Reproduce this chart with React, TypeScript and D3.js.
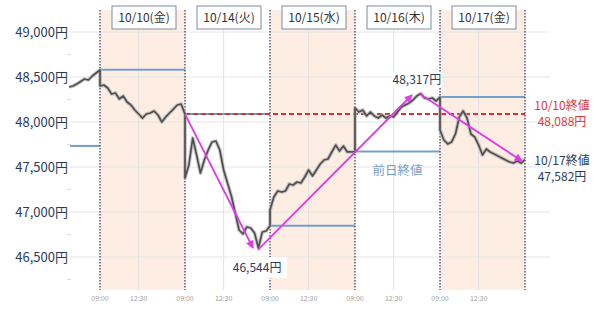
import React from "react";
import * as d3 from "d3";

const W = 600;
const H = 312;
const SESSION = 330; // trading minutes per day (lunch break removed)
const STEP = 15;

const DAY_LABELS = ["10/10(金)", "10/14(火)", "10/15(水)", "10/16(木)", "10/17(金)"];
const SHADED_DAYS = [0, 2, 4];
const Y_TICKS = [46500, 47000, 47500, 48000, 48500, 49000];
const MINOR_TICKS = [46250, 46750, 47250, 47750, 48250, 48750];
const TIME_TICKS = [
  { m: 0, t: "09:00" },
  { m: 150, t: "12:30" },
];

// Prices sampled every 15 trading minutes
const P_1009 = [48389, 48400, 48422, 48450, 48478, 48467, 48511, 48544, 48578]; // from 210 min
const P_1010 = [48400, 48411, 48378, 48311, 48322, 48256, 48289, 48222, 48189, 48133, 48089, 48044, 48089, 48100, 48122, 48078, 48000, 48056, 48100, 48144, 48189, 48200, 48088];
const P_1014 = [47378, 47522, 47822, 47633, 47433, 47578, 47689, 47778, 47789, 47689, 47467, 47322, 47178, 46989, 46800, 46756, 46833, 46822, 46767, 46600, 46778, 46789, 46847];
const P_1015 = [47022, 47167, 47233, 47222, 47233, 47311, 47300, 47333, 47322, 47389, 47467, 47400, 47467, 47533, 47578, 47589, 47667, 47744, 47678, 47733, 47667, 47667, 47672];
const P_1016 = [48156, 48111, 48133, 48067, 48111, 48067, 48044, 48078, 48044, 48067, 48056, 48111, 48167, 48189, 48211, 48244, 48289, 48317, 48267, 48256, 48267, 48233, 48277];
const P_1017 = [47911, 47800, 47756, 47778, 47867, 48056, 48122, 48044, 47867, 47833, 47744, 47633, 47700, 47667, 47644, 47622, 47600, 47578, 47556, 47544, 47567, 47544, 47582];

const SERIES = [
  { day: -1, start: 210, values: P_1009 },
  { day: 0, start: 0, values: P_1010 },
  { day: 1, start: 0, values: P_1014 },
  { day: 2, start: 0, values: P_1015 },
  { day: 3, start: 0, values: P_1016 },
  { day: 4, start: 0, values: P_1017 },
];

// previous-day close for each day (-1..4)
const PREV_CLOSE = [47734, 48580, 48088, 46847, 47672, 48277];
const REF_CLOSE = 48088; // 10/10 close
const LAST_CLOSE = 47582;
const HIGH = 48317;
const LOW = 46544;

const ARROWS = [
  { from: [1, 0, 48088], to: [1, 264, 46600] },
  { from: [1, 283, 46578], to: [3, 221, 48300] },
  { from: [3, 252, 48311], to: [4, 318, 47567] },
];

const PLOT_LEFT = 70;
const PLOT_RIGHT = 550;
const PLOT_TOP = 10;
const PLOT_BOTTOM = 290;

const xs = d3.scaleLinear().domain([0, SESSION]).range([100, 185]);
const pos = (day: number, m: number) => xs(day * SESSION + m);
const ys = d3.scaleLinear().domain([46500, 49000]).range([257, 32]);

const fmt = d3.format(",");
const JP = "'Noto Sans CJK JP', 'Noto Sans', sans-serif";
const MAGENTA = "#e03ae6";
const BLUE = "#72a0c9";
const NAVY = "#2c3b58";

export default function App() {
  const pts: [number, number][] = [];
  SERIES.forEach((s) => {
    s.values.forEach((v, i) => {
      pts.push([pos(s.day, s.start + i * STEP), ys(v)]);
    });
  });
  const line = d3.line().curve(d3.curveLinear)(pts) || "";

  const days = [0, 1, 2, 3, 4];
  const boundaries = [0, 1, 2, 3, 4, 5];

  return (
    <svg width={W} height={H} style={{ position: "absolute", left: 0, top: 0 }} fontFamily={JP}>
      <defs>
        <marker id="ah" viewBox="0 0 10 10" refX="9" refY="5" markerWidth="9" markerHeight="8" markerUnits="userSpaceOnUse" orient="auto">
          <path d="M0,0 L10,5 L0,10 z" fill={MAGENTA} />
        </marker>
      </defs>
      <rect width={W} height={H} fill="#fff" />
      {SHADED_DAYS.map((d) => (
        <rect key={d} x={pos(d, 0)} y={PLOT_TOP} width={pos(d, SESSION) - pos(d, 0)} height={PLOT_BOTTOM - PLOT_TOP} fill="#fdede3" />
      ))}
      {Y_TICKS.map((t) => (
        <line key={t} x1={PLOT_LEFT} x2={PLOT_RIGHT} y1={ys(t)} y2={ys(t)} stroke="#e4e4e4" strokeWidth={1} />
      ))}
      {MINOR_TICKS.map((t) => (
        <line key={t} x1={PLOT_LEFT - 3} x2={PLOT_LEFT + 1} y1={ys(t)} y2={ys(t)} stroke="#dcdcdc" strokeWidth={1} />
      ))}
      {days.map((d) => (
        <line key={d} x1={pos(d, 150)} x2={pos(d, 150)} y1={30} y2={PLOT_BOTTOM} stroke="#e2e2e2" strokeWidth={1} />
      ))}
      {Y_TICKS.map((t) => (
        <text key={t} x={68} y={ys(t)} dy="0.35em" textAnchor="end" fontSize={13} fill={NAVY}>
          {fmt(t)}円
        </text>
      ))}
      {days.map((d) =>
        TIME_TICKS.map((tt) => (
          <text key={d + tt.t} x={pos(d, tt.m)} y={299} dy="0.35em" textAnchor="middle" fontSize={7} fill="#a0a0a0">
            {tt.t}
          </text>
        ))
      )}
      {/* previous-day close lines */}
      {PREV_CLOSE.map((v, i) => {
        const d = i - 1;
        const x1 = d === -1 ? PLOT_LEFT : pos(d, 0);
        return <line key={i} x1={x1} x2={pos(d, SESSION)} y1={ys(v)} y2={ys(v)} stroke={BLUE} strokeWidth={2} />;
      })}
      {/* day boundaries */}
      {boundaries.map((d) => (
        <line key={d} x1={pos(d, 0)} x2={pos(d, 0)} y1={PLOT_TOP} y2={PLOT_BOTTOM} stroke="#3f3f70" strokeWidth={1.3} strokeDasharray="1.5,1.5" />
      ))}
      <line x1={pos(1, 0)} x2={pos(5, 0)} y1={ys(REF_CLOSE)} y2={ys(REF_CLOSE)} stroke="#d83232" strokeWidth={2} strokeDasharray="5,3" />
      {/* price line */}
      <path d={line} fill="none" stroke="#b5b5b5" strokeWidth={3.8} strokeOpacity={0.75} strokeLinejoin="round" />
      <path d={line} fill="none" stroke="#505050" strokeWidth={1.7} strokeLinejoin="round" />
      {/* arrows */}
      {ARROWS.map((a, i) => (
        <line key={i} x1={pos(a.from[0], a.from[1])} y1={ys(a.from[2])} x2={pos(a.to[0], a.to[1])} y2={ys(a.to[2])} stroke={MAGENTA} strokeWidth={1.8} markerEnd="url(#ah)" />
      ))}
      {/* day labels */}
      {days.map((d) => {
        const cx = (pos(d, 0) + pos(d, SESSION)) / 2 + 1.5;
        return (
          <g key={d}>
            <rect x={cx - 32} y={6} width={64} height={23} fill="#fff" stroke="#7a8ba3" strokeWidth={1} />
            <text x={cx} y={17.5} dy="0.35em" textAnchor="middle" fontSize={12} fill="#333">
              {DAY_LABELS[d]}
            </text>
          </g>
        );
      })}
      {/* callouts */}
      <rect x={pos(3, 240) - 25} y={ys(HIGH) - 21} width={50} height={15} fill="#fff" />
      <text x={pos(3, 240)} y={ys(HIGH) - 13.5} dy="0.35em" textAnchor="middle" fontSize={12} fill={NAVY}>
        {fmt(HIGH)}円
      </text>
      <rect x={pos(1, 280) - 30} y={ys(LOW) + 4} width={60} height={21} fill="#fff" />
      <text x={pos(1, 280)} y={ys(LOW) + 15} dy="0.35em" textAnchor="middle" fontSize={12} fill={NAVY}>
        {fmt(LOW)}円
      </text>
      <text x={pos(3, 165)} y={171} dy="0.35em" textAnchor="middle" fontSize={12.5} fill={BLUE}>
        前日終値
      </text>
      <text x={562} y={106} dy="0.35em" textAnchor="middle" fontSize={12} fill="#e03a3a">
        10/10終値
      </text>
      <text x={562} y={122} dy="0.35em" textAnchor="middle" fontSize={12} fill="#e03a3a">
        {fmt(REF_CLOSE)}円
      </text>
      <text x={562} y={161} dy="0.35em" textAnchor="middle" fontSize={12} fill={NAVY}>
        10/17終値
      </text>
      <text x={562} y={177} dy="0.35em" textAnchor="middle" fontSize={12} fill={NAVY}>
        {fmt(LAST_CLOSE)}円
      </text>
    </svg>
  );
}
